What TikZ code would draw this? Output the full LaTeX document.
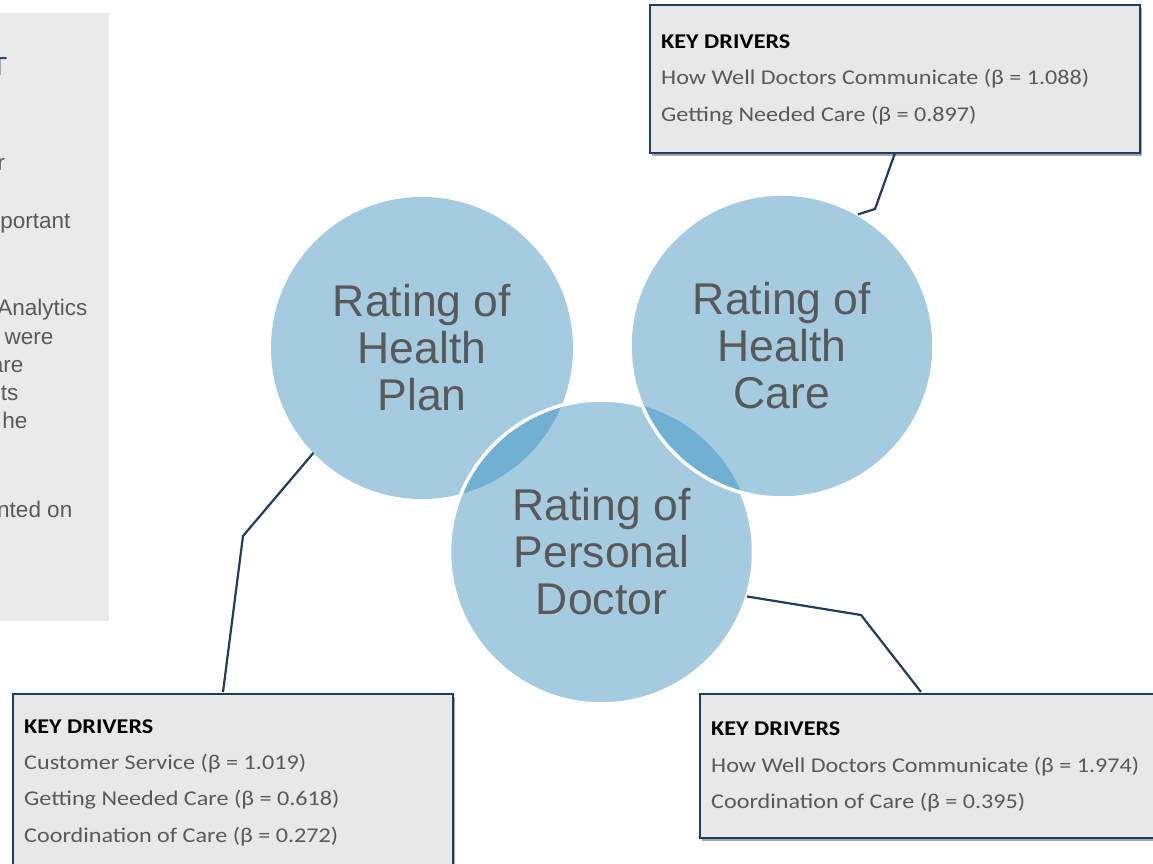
\documentclass[tikz,border=0pt]{standalone}
\usepackage{fontspec}
\setmainfont{Liberation Sans}
\newfontfamily\calib[FakeStretch=1.15]{Carlito}
\usetikzlibrary{shadows}
\definecolor{circfill}{HTML}{A5CBE1}
\definecolor{lensfill}{HTML}{70B0D3}
\definecolor{boxfill}{HTML}{E8E8E8}
\definecolor{panelfill}{HTML}{EAEAEA}
\definecolor{navy}{HTML}{1F3D5E}
\definecolor{txtgray}{HTML}{595959}
\tikzset{
  ratingtext/.style={circle, minimum size=#1, inner sep=0pt, outer sep=0pt, align=center,
     text=txtgray, font=\fontsize{44.5}{47}\selectfont},
  drvbox/.style={draw=navy, line width=1.8pt, fill=boxfill, anchor=north west, inner sep=0pt,
     drop shadow={shadow xshift=2pt, shadow yshift=-3pt, opacity=0.35, fill=black}},
  drvhead/.style={anchor=base west, inner sep=0pt, font=\calib\fontsize{21}{25}\selectfont\bfseries, text=black},
  drvline/.style={anchor=base west, inner sep=0pt, font=\calib\fontsize{21}{25}\selectfont, text=txtgray},
  conn/.style={draw=navy, line width=2.2pt, line join=miter},
  paneltext/.style={anchor=base east, inner sep=0pt, font=\fontsize{22.5}{27}\selectfont, text=txtgray},
  whiteedge/.style={draw=white, line width=3.5pt}
}
\begin{document}
\begin{tikzpicture}[x=1pt, y=-1pt]
\useasboundingbox (0,0) rectangle (1153,864);
\clip (0,0) rectangle (1153,864);
% left panel
\fill[panelfill] (-10,13) rectangle (109,621);
\node[anchor=base east, inner sep=0pt, font=\fontsize{26}{30}\selectfont, text=navy] (pt) at (7.5,76) {T};
\node[paneltext] (p1) at (5,170) {r};
\node[paneltext] (p2) at (70.5,228) {portant};
\node[paneltext] (p3) at (87.5,315) {Analytics};
\node[paneltext] (p4) at (53.5,344) {were};
\node[paneltext] (p5) at (23.5,372) {are};
\node[paneltext] (p6) at (18.5,400) {ts};
\node[paneltext] (p7) at (27.5,428) {he};
\node[paneltext] (p8) at (72.5,517) {nted on};
% circles
\coordinate (cplan) at (422,348);
\coordinate (cdoc) at (601.5,552);
\coordinate (ccare) at (782,346);
\fill[circfill] (cplan) circle (151);
\fill[circfill] (cdoc) circle (152);
\begin{scope}
  \clip (cplan) circle (151);
  \fill[lensfill] (cdoc) circle (152);
\end{scope}
\draw[whiteedge] (cdoc) circle (152);
\fill[circfill] (ccare) circle (152);
\begin{scope}
  \clip (ccare) circle (152);
  \fill[lensfill] (cdoc) circle (152);
\end{scope}
\draw[whiteedge] (ccare) circle (152);
\node[ratingtext=302pt] (plan) at (cplan) {Rating of\\Health\\Plan};
\node[ratingtext=304pt] (care) at (ccare) {Rating of\\Health\\Care};
\node[ratingtext=304pt] (doc) at (cdoc) {Rating of\\Personal\\Doctor};
% boxes
\node[drvbox, minimum width=490pt, minimum height=148pt] (topbox) at (649,4) {};
\node[drvhead] (th) at (661,48.5) {KEY DRIVERS};
\node[drvline] (t1) at (661,85) {How Well Doctors Communicate (β = 1.088)};
\node[drvline] (t2) at (661,121.5) {Getting Needed Care (β = 0.897)};
\node[drvbox, minimum width=440pt, minimum height=200pt] (blbox) at (12,693) {};
\node[drvhead] (bh) at (24,733) {KEY DRIVERS};
\node[drvline] (b1) at (24,769) {Customer Service (β = 1.019)};
\node[drvline] (b2) at (24,805.5) {Getting Needed Care (β = 0.618)};
\node[drvline] (b3) at (24,842) {Coordination of Care (β = 0.272)};
\node[drvbox, minimum width=500pt, minimum height=144pt] (brbox) at (699,693) {};
\node[drvhead] (rh) at (711,735) {KEY DRIVERS};
\node[drvline] (r1) at (711,772) {How Well Doctors Communicate (β = 1.974)};
\node[drvline] (r2) at (711,808) {Coordination of Care (β = 0.395)};
% connectors
\coordinate (tstart) at (895,153);
\coordinate (tbend) at (875,209);
\draw[conn] (tstart) -- (tbend) -- (care.60.5);
\coordinate (bstart) at (223,692);
\coordinate (bbend) at (243,536);
\draw[conn] (bstart) -- (bbend) -- (plan.224);
\coordinate (rstart) at (921,692);
\coordinate (rbend) at (861,615);
\draw[conn] (rstart) -- (rbend) -- (doc.-17.3);
\end{tikzpicture}
\end{document}
